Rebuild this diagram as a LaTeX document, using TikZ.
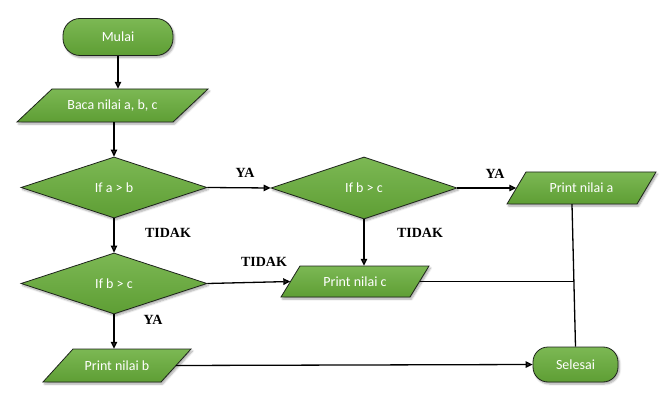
\documentclass[tikz,border=0pt]{standalone}
\usepackage{fontspec}
\setmainfont{Carlito}
\newfontfamily\lblfont{Liberation Serif}
\usetikzlibrary{shapes.geometric,arrows.meta,shadows.blur,calc}

\definecolor{greenTop}{RGB}{124,184,84}
\definecolor{greenBot}{RGB}{94,158,52}
\definecolor{edgeDark}{RGB}{30,36,28}

\tikzset{
  fillgreen/.style={draw=edgeDark, line width=0.8pt, top color=greenTop, bottom color=greenBot,
    blur shadow={shadow xshift=1.5pt, shadow yshift=-2pt, shadow blur steps=6, shadow opacity=35}},
  boxtext/.style={text=white, font=\fontsize{14}{16}\selectfont, inner sep=0pt},
  box/.style={fillgreen, boxtext},
  terminal/.style={box, rectangle, rounded corners=#1},
  decision/.style={box, diamond, minimum width=186pt, minimum height=61pt},
  iotext/.style={boxtext, rectangle},
  flow/.style={line width=1.3pt, -{Triangle[length=7pt,width=6.5pt]}},
  mergeline/.style={line width=1.3pt},
  lbl/.style={font=\lblfont\bfseries\fontsize{14}{16}\selectfont, inner sep=0pt}
}

% input/output block: name, centre x, centre y, full width, height, slant, text
\newcommand{\ioblock}[7]{%
  \path[fillgreen] (#2-#4/2+#6, #3-#5/2) -- (#2+#4/2, #3-#5/2)
     -- (#2+#4/2-#6, #3+#5/2) -- (#2-#4/2, #3+#5/2) -- cycle;
  \node[iotext, minimum width={(#4-#6)*1pt}, minimum height={#5*1pt}] (#1) at (#2,#3) {#7};
}

\begin{document}
\begin{tikzpicture}[x=1pt, y=-1pt]
  \useasboundingbox (0,0) rectangle (670,409);

  % process steps
  \node[terminal=17pt, minimum width=110pt, minimum height=37pt] (mulai) at (118,37) {Mulai};
  \ioblock{baca}{112.5}{105.5}{191}{33}{35}{Baca nilai a, b, c}
  \node[decision] (ifab) at (114,187.5) {If a > b};
  \node[decision, minimum height=62pt] (ifbcA) at (364,188) {If b > c};
  \ioblock{printa}{581.5}{188}{149}{32}{19}{Print nilai a}
  \node[decision] (ifbcB) at (114,283.5) {If b > c};
  \ioblock{printc}{355}{281.5}{148}{31}{19}{Print nilai c}
  \ioblock{printb}{117}{365.5}{148}{33}{30}{Print nilai b}
  \node[terminal=15pt, minimum width=85pt, minimum height=35pt] (selesai) at (575.5,364.5) {Selesai};

  % branch labels
  \node[lbl] (ya1) at (245,173) {YA};
  \node[lbl] (ya2) at (495,174) {YA};
  \node[lbl] (tidak1) at (168,233) {TIDAK};
  \node[lbl] (tidak2) at (420,233) {TIDAK};
  \node[lbl] (tidak3) at (264,262) {TIDAK};
  \node[lbl] (ya3) at (153,320) {YA};

  % connectors
  \draw[flow] (mulai.south) -- (mulai.south |- baca.north);
  \draw[flow] (baca.south -| ifab.north) -- (ifab.north);
  \draw[flow] (ifab.east) -- (ifbcA.west);
  \draw[flow] (ifbcA.east) -- (printa.west);
  \draw[flow] (ifbcA.south) -- (ifbcA.south |- printc.north);
  \draw[flow] (ifab.south) -- (ifbcB.north);
  \draw[flow] (ifbcB.east) -- (printc.west);
  \draw[flow] (ifbcB.south) -- (ifbcB.south |- printb.north);
  \draw[flow] (printb.east) -- (selesai.west);
  \coordinate (printa-out) at ($(printa.south)+(-9.5,0)$);
  \draw[mergeline] (printa-out) -- (selesai.north);
  % the Print nilai c line meets the return line horizontally
  \coordinate (merge) at ($(printa-out)!0.542!(selesai.north)$);
  \draw[mergeline] (printc.east) -- (printc.east -| merge);
\end{tikzpicture}
\end{document}
